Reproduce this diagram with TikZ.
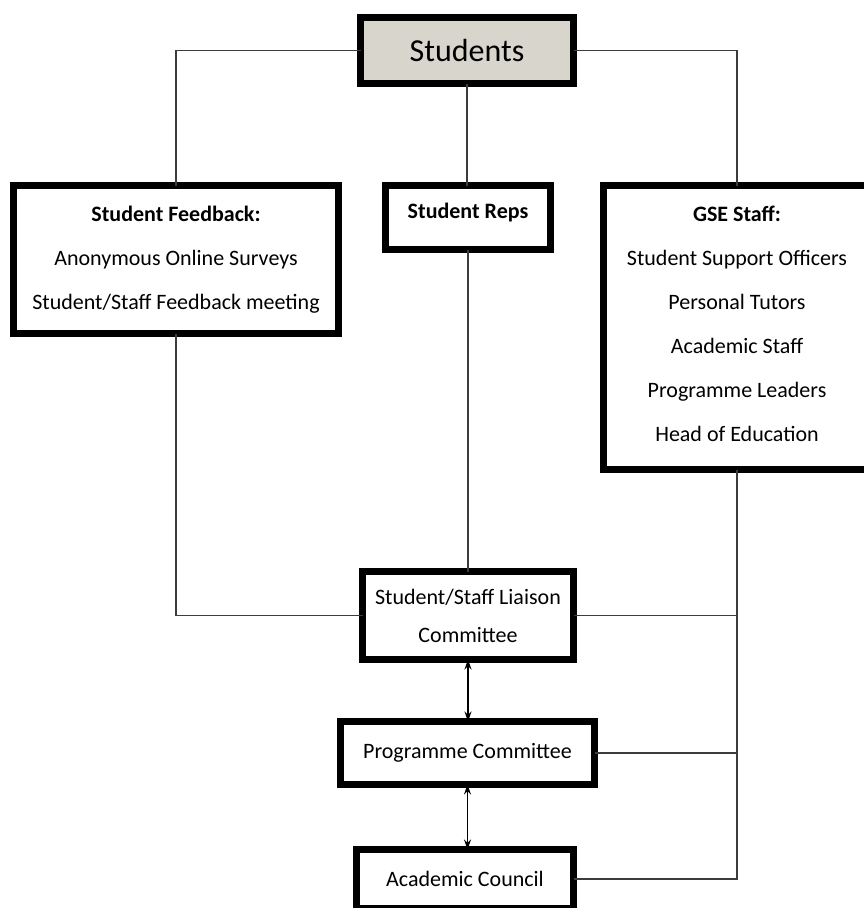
\documentclass[tikz,border=0pt]{standalone}
\usepackage{fontspec}
\setmainfont{Carlito}
\usetikzlibrary{arrows.meta}
\definecolor{studgray}{RGB}{216,213,205}
\definecolor{linkgray}{RGB}{60,60,60}
\tikzset{
  box/.style={draw,line width=7pt,fill=white,align=center,inner sep=0pt,outer sep=0pt,font=\fontsize{22}{44}\selectfont},
  link/.style={draw=linkgray,line width=1.3pt},
  twoway/.style={draw=black,line width=1.3pt,{Stealth[length=10pt,width=7pt]}-{Stealth[length=10pt,width=7pt]}}
}
\begin{document}
\begin{tikzpicture}[x=1pt,y=-1pt]
                \clip (0,0) rectangle (864,908);
                \fill[white] (0,0) rectangle (864,908);
                %% top
                \node[box,fill=studgray,minimum width=213pt,minimum height=66pt,font=\fontsize{32}{38}\selectfont] (S) at (467,50.5) {Students};
                %% second row
                \node[box,minimum width=325pt,minimum height=148pt] (F) at (176,259.5) {\textbf{Student Feedback:}\\Anonymous Online Surveys\\Student/Staff Feedback meeting};
                \node[box,minimum width=165pt,minimum height=64pt,text depth=13pt] (R) at (468,217.5) {\textbf{Student Reps}};
                \node[box,minimum width=267pt,minimum height=284pt,text depth=7pt] (G) at (737,327.5) {\textbf{GSE Staff:}\\Student Support Officers\\Personal Tutors\\Academic Staff\\Programme Leaders\\Head of Education};
                %% committees
                \node[box,minimum width=211pt,minimum height=88pt,font=\fontsize{22}{38}\selectfont] (L) at (468,615.5) {Student/Staff Liaison\\Committee};
                \node[box,minimum width=254pt,minimum height=63pt] (P) at (467.5,753) {Programme Committee};
                \node[box,minimum width=217pt,minimum height=59pt] (C) at (465,879) {Academic Council};
                %% links
                \draw[link] (S.west) -| (F.north);
                \draw[link] (S.east) -| (G.north);
                \draw[link] (S.south) -- (S.south |- R.north);
                \draw[link] (F.south) |- (L.west);
                \draw[link] (R.south) -- (R.south |- L.north);
                \draw[link] (G.south) |- (C.east);
                \draw[link] (L.east) -- (L.east -| G.south);
                \draw[link] (P.east) -- (P.east -| G.south);
                \draw[twoway] (L.south) -- (L.south |- P.north);
                \draw[twoway] (P.south) -- (P.south |- C.north);
            \end{tikzpicture}
\end{document}
